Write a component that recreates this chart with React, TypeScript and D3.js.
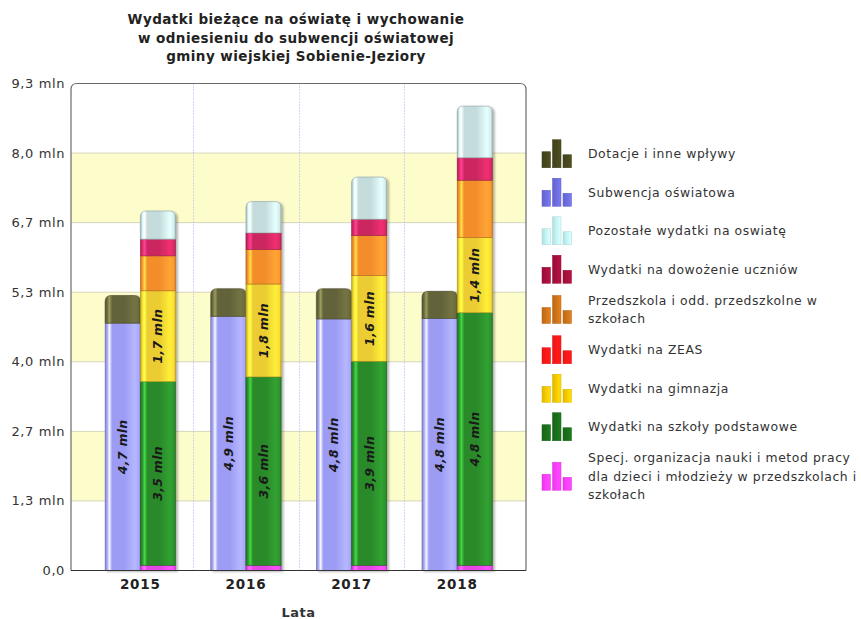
import React from "react";
import * as d3 from "d3";

// ---------- DATA ----------
const years = ["2015", "2016", "2017", "2018"];
const subwencja = [4.74, 4.87, 4.82, 4.83];
const dotacje = [0.53, 0.53, 0.58, 0.52];
const specj = [0.1, 0.1, 0.1, 0.1];
const szkolyPodst = [3.52, 3.61, 3.91, 4.84];
const gimnazja = [1.74, 1.78, 1.64, 1.44];
const zeas = [0, 0, 0, 0];
const przedszkola = [0.67, 0.66, 0.77, 1.1];
const dowozenie = [0.32, 0.32, 0.31, 0.43];
const pozostale = [0.54, 0.6, 0.81, 0.99];
const yTickValues = [0, 4 / 3, 8 / 3, 4, 16 / 3, 20 / 3, 8, 28 / 3];

const titleLines = [
  "Wydatki bieżące na oświatę i wychowanie",
  "w odniesieniu do subwencji oświatowej",
  "gminy wiejskiej Sobienie-Jeziory",
];
const xTitle = "Lata";

type Series = { key: string; label: string[]; values: number[]; stack: "L" | "R"; showLabel: boolean };
const series: Series[] = [
  { key: "dotacje", label: ["Dotacje i inne wpływy"], values: dotacje, stack: "L", showLabel: false },
  { key: "subwencja", label: ["Subwencja oświatowa"], values: subwencja, stack: "L", showLabel: true },
  { key: "pozostale", label: ["Pozostałe wydatki na oswiatę"], values: pozostale, stack: "R", showLabel: false },
  { key: "dowozenie", label: ["Wydatki na dowożenie uczniów"], values: dowozenie, stack: "R", showLabel: false },
  { key: "przedszkola", label: ["Przedszkola i odd. przedszkolne w", "szkołach"], values: przedszkola, stack: "R", showLabel: false },
  { key: "zeas", label: ["Wydatki na ZEAS"], values: zeas, stack: "R", showLabel: false },
  { key: "gimnazja", label: ["Wydatki na gimnazja"], values: gimnazja, stack: "R", showLabel: true },
  { key: "szkoly", label: ["Wydatki na szkoły podstawowe"], values: szkolyPodst, stack: "R", showLabel: true },
  {
    key: "specj",
    label: ["Specj. organizacja nauki i metod pracy", "dla dzieci i młodzieży w przedszkolach i", "szkołach"],
    values: specj,
    stack: "R",
    showLabel: false,
  },
];

// ---------- STYLES ----------
const barColor: Record<string, string> = {
  dotacje: "#63633a",
  subwencja: "#9c9cf4",
  pozostale: "#c4dcdc",
  dowozenie: "#cc2860",
  przedszkola: "#f38d2c",
  zeas: "#ff2020",
  gimnazja: "#ebcc30",
  szkoly: "#2a8a2a",
  specj: "#e444e4",
};
const legendColor: Record<string, string> = {
  dotacje: "#48481e",
  subwencja: "#6e6ee0",
  pozostale: "#c6f6f6",
  dowozenie: "#a8103e",
  przedszkola: "#d0741a",
  zeas: "#ff1818",
  gimnazja: "#f8cc00",
  szkoly: "#1a701a",
  specj: "#ff40ff",
};

const W = 861;
const H = 619;
const plotLeft = 71;
const plotRight = 526;
const plotTop = 83.5;
const plotBottom = 570.5;
const FONT = "'DejaVu Sans', Verdana, sans-serif";

const fmt = (v: number) => v.toFixed(1).replace(".", ",");

function topRounded(x: number, y: number, w: number, h: number, r: number) {
  const rr = Math.min(r, h, w / 2);
  return `M${x},${y + h} V${y + rr} Q${x},${y} ${x + rr},${y} H${x + w - rr} Q${x + w},${y} ${x + w},${y + rr} V${y + h} Z`;
}

export default function App() {
  const x = d3.scaleBand<string>().domain(years).range([87.5, 510]).paddingInner(0).paddingOuter(0);
  const sub = d3.scaleBand<string>().domain(["L", "R"]).range([0, x.bandwidth()]).paddingInner(0).paddingOuter(0.5);
  const y = d3.scaleLinear().domain([0, 28 / 3]).range([plotBottom, plotTop]);

  const rows = years.map((yr, i) => {
    const r: Record<string, any> = { year: yr };
    series.forEach((s) => (r[s.key] = s.values[i]));
    return r;
  });

  const leftKeys = series.filter((s) => s.stack === "L").map((s) => s.key).reverse();
  const rightKeys = series.filter((s) => s.stack === "R").map((s) => s.key).reverse();
  const stacks = [
    { g: "L", layers: d3.stack<any>().keys(leftKeys)(rows) },
    { g: "R", layers: d3.stack<any>().keys(rightKeys)(rows) },
  ];

  const bandPairs = [
    [yTickValues[1], yTickValues[2]],
    [yTickValues[3], yTickValues[4]],
    [yTickValues[5], yTickValues[6]],
  ];

  let cy = 134.5;
  const legendItems = series.map((s) => {
    const h = s.label.length === 1 ? 38.5 : s.label.length * 18.5 + 5;
    const center = cy + h / 2;
    cy += h;
    return { s, center };
  });

  const bw = sub.bandwidth();

  return (
    <svg width={W} height={H} style={{ position: "absolute", left: 0, top: 0, background: "#fff" }} fontFamily={FONT}>
      <defs>
        {series.map((s) => {
          const c = d3.color(barColor[s.key])!;
          return (
            <linearGradient key={s.key} id={`g-${s.key}`} x1="0" x2="1" y1="0" y2="0">
              <stop offset="0" stopColor={c.darker(0.6).toString()} />
              <stop offset="0.07" stopColor={c.brighter(0.4).toString()} />
              <stop offset="0.12" stopColor={c.brighter(1.3).toString()} />
              <stop offset="0.2" stopColor={c.toString()} />
              <stop offset="0.55" stopColor={c.toString()} />
              <stop offset="0.85" stopColor={c.brighter(0.45).toString()} />
              <stop offset="0.96" stopColor={c.brighter(0.2).toString()} />
              <stop offset="1" stopColor={c.darker(0.5).toString()} />
            </linearGradient>
          );
        })}
        {series.map((s) => {
          const c = d3.color(legendColor[s.key])!;
          return (
            <linearGradient key={s.key} id={`lg-${s.key}`} x1="0" x2="1" y1="0" y2="0">
              <stop offset="0" stopColor={c.darker(0.3).toString()} />
              <stop offset="0.5" stopColor={c.toString()} />
              <stop offset="1" stopColor={c.brighter(0.3).toString()} />
            </linearGradient>
          );
        })}
        <filter id="shadow" x="-20%" y="-5%" width="150%" height="110%">
          <feDropShadow dx="2" dy="1" stdDeviation="1.3" floodColor="#000" floodOpacity="0.3" />
        </filter>
      </defs>

      {/* title */}
      <text x={296} fontSize={13.5} fontWeight="bold" fill="#222" textAnchor="middle" letterSpacing={0.45}>
        {titleLines.map((t, i) => (
          <tspan key={i} x={296} y={24 + i * 18.5}>
            {t}
          </tspan>
        ))}
      </text>

      {bandPairs.map(([a, b], i) => (
        <rect key={i} x={plotLeft} y={y(b)} width={plotRight - plotLeft} height={y(a) - y(b)} fill="#fdfdcc" />
      ))}
      {yTickValues.slice(1, -1).map((v, i) => (
        <line key={i} x1={plotLeft} x2={plotRight} y1={y(v)} y2={y(v)} stroke="#d6d6bc" strokeWidth={1} />
      ))}
      {years.slice(0, -1).map((yr) => {
        const xx = Math.round(x(yr)! + x.bandwidth()) + 0.5;
        return <line key={yr} x1={xx} x2={xx} y1={plotTop} y2={plotBottom} stroke="#a8a8f0" strokeWidth={1} strokeDasharray="1,2" />;
      })}

      <path
        d={`M${plotLeft},${plotBottom} V${plotTop + 6} Q${plotLeft},${plotTop} ${plotLeft + 6},${plotTop} H${plotRight - 6} Q${plotRight},${plotTop} ${plotRight},${plotTop + 6} V${plotBottom}`}
        fill="none"
        stroke="#6a6a6a"
        strokeWidth={1.2}
      />

      {years.map((yr, i) =>
        stacks.map((st) => {
          const bx = x(yr)! + sub(st.g)!;
          const nonZero = st.layers.filter((l) => l[i][1] - l[i][0] > 0);
          const topKey = nonZero.length ? nonZero[nonZero.length - 1].key : "";
          return (
            <g key={yr + st.g}>
              <g filter="url(#shadow)">
                {st.layers.map((layer) => {
                  const [v0, v1] = layer[i];
                  if (v1 - v0 <= 0) return null;
                  const yTop = y(v1);
                  const h = y(v0) - y(v1);
                  const c = d3.color(barColor[layer.key])!.darker(0.8).toString();
                  return layer.key === topKey ? (
                    <path key={layer.key} d={topRounded(bx, yTop, bw, h, 6)} fill={`url(#g-${layer.key})`} stroke={c} strokeWidth={0.6} />
                  ) : (
                    <rect key={layer.key} x={bx} y={yTop} width={bw} height={h} fill={`url(#g-${layer.key})`} stroke={c} strokeWidth={0.6} />
                  );
                })}
              </g>
              {st.layers.map((layer) => {
                const s = series.find((q) => q.key === layer.key)!;
                if (!s.showLabel) return null;
                const [v0, v1] = layer[i];
                const cx = bx + bw / 2;
                const cyy = (y(v0) + y(v1)) / 2;
                return (
                  <text
                    key={"t" + layer.key}
                    transform={`translate(${cx},${cyy}) rotate(-90)`}
                    textAnchor="middle"
                    dy="0.36em"
                    fontSize={12.5}
                    fontWeight="bold"
                    fontStyle="italic"
                    fill="#1a1a1a"
                    letterSpacing={0.3}
                  >
                    {fmt(v1 - v0)} mln
                  </text>
                );
              })}
            </g>
          );
        })
      )}

      <line x1={plotLeft} x2={plotRight} y1={plotBottom} y2={plotBottom} stroke="#333" strokeWidth={1.2} />

      {yTickValues.map((v, i) => (
        <text key={i} x={65} y={y(v)} dy="0.35em" textAnchor="end" fontSize={13} fill="#333" letterSpacing={0.6}>
          {i === 0 ? "0,0" : `${fmt(v)} mln`}
        </text>
      ))}

      {years.map((yr) => (
        <text key={yr} x={x(yr)! + x.bandwidth() / 2} y={588.5} textAnchor="middle" fontSize={13.5} fontWeight="bold" fill="#222" letterSpacing={0.8}>
          {yr}
        </text>
      ))}
      <text x={298.5} y={617} textAnchor="middle" fontSize={13} fontWeight="bold" fill="#333" letterSpacing={0.5}>
        {xTitle}
      </text>

      {legendItems.map(({ s, center }) => {
        const iy = center - 14;
        const n = s.label.length;
        const lh = 18.5;
        const firstY = center - ((n - 1) * lh) / 2;
        const fill = `url(#lg-${s.key})`;
        const st = d3.color(legendColor[s.key])!.darker(0.4).toString();
        return (
          <g key={s.key}>
            <rect x={542} y={iy + 12} width={8.5} height={16} fill={fill} stroke={st} strokeWidth={0.5} />
            <rect x={552.5} y={iy} width={8.5} height={28} fill={fill} stroke={st} strokeWidth={0.5} />
            <rect x={563} y={iy + 15} width={8.5} height={13} fill={fill} stroke={st} strokeWidth={0.5} />
            <text fontSize={12.4} fill="#333" letterSpacing={0.58}>
              {s.label.map((t, k) => (
                <tspan key={k} x={588} y={firstY + k * lh} dy="0.35em">
                  {t}
                </tspan>
              ))}
            </text>
          </g>
        );
      })}
    </svg>
  );
}
